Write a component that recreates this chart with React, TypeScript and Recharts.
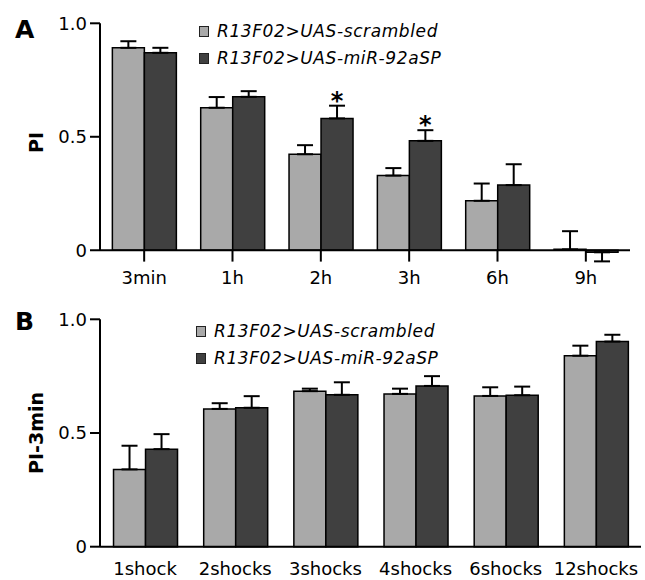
import React from 'react'
import { BarChart, Bar, XAxis, YAxis, ErrorBar, ReferenceLine, Legend, LabelList, Label } from 'recharts'

const SERIES = ['R13F02>UAS-scrambled', 'R13F02>UAS-miR-92aSP']

// panel A: retention after training
const timeLabels = ['3min', '1h', '2h', '3h', '6h', '9h']
const scrambledA = [0.892, 0.628, 0.423, 0.329, 0.218, 0.004]
const scrambledErrA = [0.029, 0.047, 0.040, 0.033, 0.076, 0.080]
const mirA = [0.870, 0.676, 0.581, 0.482, 0.287, -0.009]
const mirErrA = [0.022, 0.025, 0.056, 0.047, 0.092, 0.040]
const starsA = ['', '', '*', '*', '', '']

// panel B: acquisition vs number of shocks
const shockLabels = ['1shock', '2shocks', '3shocks', '4shocks', '6shocks', '12shocks']
const scrambledB = [0.340, 0.606, 0.684, 0.672, 0.663, 0.840]
const scrambledErrB = [0.104, 0.025, 0.011, 0.023, 0.038, 0.044]
const mirB = [0.429, 0.611, 0.668, 0.707, 0.666, 0.902]
const mirErrB = [0.066, 0.051, 0.055, 0.043, 0.038, 0.030]

const yTicks = [0, 0.5, 1]

const LIGHT = '#a9a9a9'
const DARK = '#404040'
const FONT = '"DejaVu Sans", "Liberation Sans", sans-serif'
const tickStyle = { fontSize: 18, fill: '#000', fontFamily: FONT }
const A_FLOOR = -0.05 // room under the zero line for the 9h whisker and x ticks

// whiskers are one-sided, pointing away from zero
const sem = (v: number, e: number) => (v >= 0 ? [0, e] : [e, 0])

const buildRows = (cats: string[], a: number[], aErr: number[], b: number[], bErr: number[]) =>
  cats.map((name, i) => ({
    name,
    scrambled: a[i],
    scrambledErr: sem(a[i], aErr[i]),
    mir: b[i],
    mirErr: sem(b[i], bErr[i]),
  }))

const dataA = buildRows(timeLabels, scrambledA, scrambledErrA, mirA, mirErrA)
const dataB = buildRows(shockLabels, scrambledB, scrambledErrB, mirB, mirErrB)

const fmtTick = (v: number) => (v === 0 ? '0' : v.toFixed(1))

function AxisTitle({ viewBox, text }: any) {
  const vb = viewBox || { x: 0, y: 0, width: 100, height: 0 }
  const cx = vb.x + 43
  const cy = vb.y + vb.height / 2
  return (
    <text x={cx} y={cy} transform={`rotate(-90 ${cx} ${cy})`} textAnchor="middle"
      fontFamily={FONT} fontWeight="bold" fontSize={19} fill="#000">
      {text}
    </text>
  )
}

function SeriesLegend({ payload }: any) {
  // keep series order (recharts sorts legend items by name otherwise)
  const items = [...(payload || [])].sort((a: any, b: any) => SERIES.indexOf(a.value) - SERIES.indexOf(b.value))
  return (
    <div style={{ fontFamily: FONT, fontSize: 17, fontStyle: 'italic', letterSpacing: 0.6, color: '#000' }}>
      {items.map((entry: any) => (
        <div key={entry.value} style={{ display: 'flex', alignItems: 'center', height: 26.6 }}>
          <span style={{
            width: 10, height: 11, boxSizing: 'border-box', background: entry.color,
            border: '1.5px solid #222', marginRight: 8, display: 'inline-block',
          }} />
          <span style={{ lineHeight: 1, whiteSpace: 'nowrap' }}>{entry.value}</span>
        </div>
      ))}
    </div>
  )
}

// asterisk sits just above the whisker cap of the bar
const starLabel = (marks: string[], errs: number[]) => (props: any) => {
  const { x, y, width, height, value, index } = props
  const mark = marks[index]
  if (!mark) return null
  const whisker = (errs[index] * height) / value
  return (
    <text key={`star-${index}`} x={x + width / 2} y={y - whisker + 3} textAnchor="middle"
      fontFamily={FONT} fontWeight="bold" fontSize={24} fill="#000">
      {mark}
    </text>
  )
}

const panelLetter = (top: number): React.CSSProperties => ({
  position: 'absolute', left: 15, top, fontFamily: FONT, fontWeight: 'bold',
  fontSize: 25, lineHeight: '25px', color: '#000',
})

export default function App() {
  return (
    <div style={{ position: 'absolute', left: 0, top: 0, width: 645, height: 580, background: '#fff' }}>
      <div style={{ position: 'absolute', left: 0, top: 0 }}>
        <BarChart width={645} height={290} data={dataA} barCategoryGap="14%" barGap={0}
          margin={{ top: 23.3, right: 15, bottom: 0, left: 0 }}>
          <XAxis dataKey="name" interval={0} axisLine={false} tickLine={false} tickSize={0}
            tickMargin={10} height={28.4} tick={tickStyle} />
          <YAxis width={100} domain={[A_FLOOR, 1]} ticks={yTicks} tickFormatter={fmtTick}
            axisLine={false} tickLine={{ stroke: '#000', strokeWidth: 2 }} tickSize={10} tickMargin={3}
            tick={tickStyle} label={<Label content={(p: any) => <AxisTitle viewBox={p.viewBox} text="PI" />} />} />
          <Legend layout="vertical" align="center" verticalAlign="middle" content={<SeriesLegend />}
            wrapperStyle={{ left: 199, top: 18.7, width: 'auto' }} />
          <Bar dataKey="scrambled" name={SERIES[0]} fill={LIGHT} stroke="#000" strokeWidth={1.5}
            isAnimationActive={false}>
            <ErrorBar dataKey="scrambledErr" width={8} stroke="#000" strokeWidth={2} isAnimationActive={false} />
          </Bar>
          <Bar dataKey="mir" name={SERIES[1]} fill={DARK} stroke="#000" strokeWidth={1.5}
            isAnimationActive={false}>
            <ErrorBar dataKey="mirErr" width={8} stroke="#000" strokeWidth={2} isAnimationActive={false} />
            <LabelList dataKey="mir" content={starLabel(starsA, mirErrA)} />
          </Bar>
          <ReferenceLine y={0} stroke="#000" strokeWidth={2} />
          <ReferenceLine segment={[{ x: timeLabels[0], y: 0 }, { x: timeLabels[0], y: 1 }]}
            position="start" stroke="#000" strokeWidth={2} />
          {timeLabels.map((t) => (
            <ReferenceLine key={t} segment={[{ x: t, y: 0 }, { x: t, y: A_FLOOR }]}
              stroke="#000" strokeWidth={2} />
          ))}
        </BarChart>
      </div>

      <div style={{ position: 'absolute', left: 0, top: 290 }}>
        <BarChart width={645} height={290} data={dataB} barCategoryGap="15%" barGap={0}
          margin={{ top: 29.3, right: 4, bottom: 0, left: 0 }}>
          <XAxis dataKey="name" interval={0} axisLine={{ stroke: '#000', strokeWidth: 2 }}
            tickLine={false} tickSize={0} tickMargin={16} height={33.3} tick={tickStyle} />
          <YAxis width={100} domain={[0, 1]} ticks={yTicks} tickFormatter={fmtTick}
            axisLine={{ stroke: '#000', strokeWidth: 2 }} tickLine={{ stroke: '#000', strokeWidth: 2 }}
            tickSize={10} tickMargin={3} tick={tickStyle}
            label={<Label content={(p: any) => <AxisTitle viewBox={p.viewBox} text="PI-3min" />} />} />
          <Legend layout="vertical" align="center" verticalAlign="middle" content={<SeriesLegend />}
            wrapperStyle={{ left: 196, top: 28.3, width: 'auto' }} />
          <Bar dataKey="scrambled" name={SERIES[0]} fill={LIGHT} stroke="#000" strokeWidth={1.5}
            isAnimationActive={false}>
            <ErrorBar dataKey="scrambledErr" width={8} stroke="#000" strokeWidth={2} isAnimationActive={false} />
          </Bar>
          <Bar dataKey="mir" name={SERIES[1]} fill={DARK} stroke="#000" strokeWidth={1.5}
            isAnimationActive={false}>
            <ErrorBar dataKey="mirErr" width={8} stroke="#000" strokeWidth={2} isAnimationActive={false} />
          </Bar>
        </BarChart>
      </div>

      <div style={panelLetter(17)}>A</div>
      <div style={panelLetter(309)}>B</div>
    </div>
  )
}
